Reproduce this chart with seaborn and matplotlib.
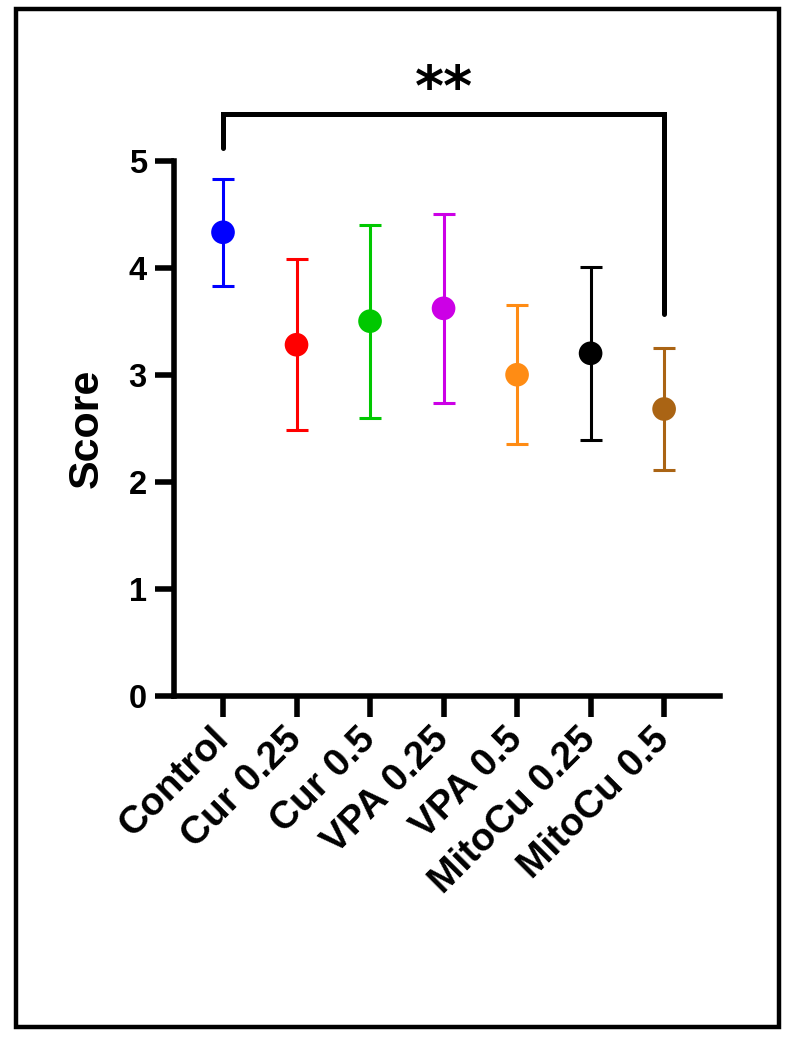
import matplotlib
matplotlib.use("Agg")
import matplotlib.pyplot as plt
import seaborn as sns
from matplotlib.patches import Rectangle

# Datos (media y desviación)
grupos = ["Control", "Cur 0.25", "Cur 0.5", "VPA 0.25", "VPA 0.5", "MitoCu 0.25", "MitoCu 0.5"]
medias = [4.33, 3.28, 3.50, 3.62, 3.00, 3.20, 2.68]
errores = [0.50, 0.80, 0.90, 0.88, 0.65, 0.81, 0.57]
colores = ["#0000FF", "#FF0000", "#00C800", "#CC00E6", "#FF8C14", "#000000", "#AA6414"]
yticks = [0, 1, 2, 3, 4, 5]

sns.set_theme(style="ticks")
plt.rcParams["font.family"] = ["Liberation Sans", "DejaVu Sans"]
plt.rcParams["font.weight"] = "bold"
for k in ["text.color", "axes.labelcolor", "xtick.color", "ytick.color", "axes.edgecolor"]:
    plt.rcParams[k] = "black"

fig = plt.figure(figsize=(7.96, 10.39), dpi=100)
ax = fig.add_axes([0.2192, 0.3301, 0.6853, 0.5154])

# Barras de error
for i, (g, m, e, c) in enumerate(zip(grupos, medias, errores, colores)):
    ax.errorbar(i, m, yerr=e, color=c, ecolor=c, elinewidth=2.2, capsize=8,
                capthick=2.2, fmt="none", zorder=2)

# Puntos (media)
sns.scatterplot(x=list(range(len(grupos))), y=medias, hue=grupos, palette=colores,
                s=290, edgecolor="none", legend=False, ax=ax, zorder=3)

ax.set_xlim(-0.66, 6.76)
ax.set_ylim(0, 5)
ax.set_yticks(yticks)
ax.set_xticks(range(len(grupos)))
ax.set_xticklabels(grupos, rotation=45, ha="right", va="center", rotation_mode="anchor",
                   fontsize=28, fontweight="bold")
ax.tick_params(axis="y", labelsize=23.5, width=4, length=14, pad=6)
ax.tick_params(axis="x", width=4, length=15, pad=12)
for lbl in ax.get_yticklabels():
    lbl.set_fontweight("bold")
ax.set_ylabel("Score", fontsize=31, fontweight="bold", labelpad=16)
ax.set_xlabel("")

sns.despine(ax=ax)
for s in ["left", "bottom"]:
    ax.spines[s].set_linewidth(4)
    ax.spines[s].set_capstyle("projecting")

# Corchete de significancia
ax.plot([0, 0, 6, 6], [5.12, 5.43, 5.43, 3.57], color="black", lw=3.6,
        clip_on=False, solid_joinstyle="miter")
ax.text(3, 5.66, "**", ha="center", va="center", fontsize=40, fontweight="bold",
        family=["DejaVu Sans"])

# Marco exterior
fig.patches.append(Rectangle((0.0201, 0.0111), 0.9585, 0.9798, transform=fig.transFigure,
                             fill=False, edgecolor="black", linewidth=3.2))

fig.savefig("out.png", dpi=100)
